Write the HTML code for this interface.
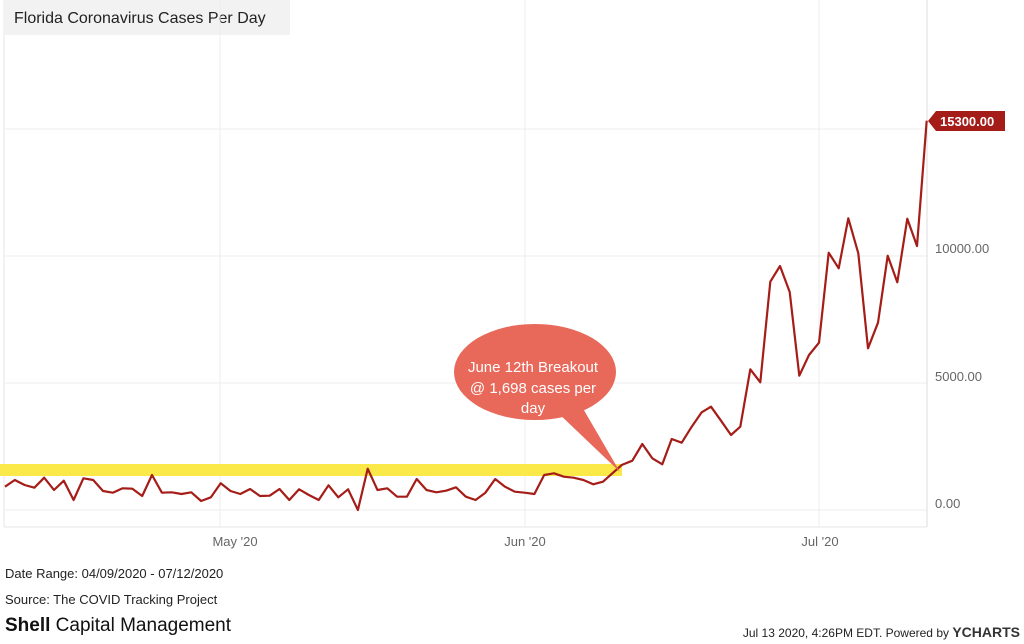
<!DOCTYPE html>
<html><head><meta charset="utf-8"><style>
html,body{margin:0;padding:0;background:#fff;width:1024px;height:644px;overflow:hidden;font-family:"Liberation Sans",sans-serif;}
</style></head><body>
<svg id="s" width="1024" height="644" xmlns="http://www.w3.org/2000/svg" style="position:absolute;left:0;top:0">
<rect x="5" y="0" width="285" height="35" fill="#f2f2f2"/>
<text x="14" y="23" font-size="16" fill="#222">Florida Coronavirus Cases Per Day</text>
<g stroke="#ececec" stroke-width="1">
<line x1="5" y1="129" x2="927" y2="129"/>
<line x1="5" y1="256" x2="927" y2="256"/>
<line x1="5" y1="383" x2="927" y2="383"/>
<line x1="5" y1="510" x2="927" y2="510"/>
<line x1="220" y1="0" x2="220" y2="527"/>
<line x1="525" y1="0" x2="525" y2="527"/>
<line x1="819" y1="0" x2="819" y2="527"/>
</g>
<line x1="927" y1="0" x2="927" y2="527" stroke="#ddd"/>
<line x1="4" y1="0" x2="4" y2="527" stroke="#e6e6e6"/>
<line x1="4" y1="527" x2="927" y2="527" stroke="#e6e6e6"/>
<g font-size="13" fill="#666">
<text x="935" y="253">10000.00</text>
<text x="935" y="381">5000.00</text>
<text x="935" y="508">0.00</text>
<text x="235" y="546" text-anchor="middle">May '20</text>
<text x="525" y="546" text-anchor="middle">Jun '20</text>
<text x="820" y="546" text-anchor="middle">Jul '20</text>
</g>
<rect x="0" y="464" width="622" height="12" fill="#fbe94a"/>
<polyline id="p" fill="none" stroke="#a51d18" stroke-width="2.2" stroke-linejoin="round"/>
<path d="M928,121 L936,111 L1005,111 L1005,131 L936,131 Z" fill="#a51d18"/>
<text x="940" y="126" font-size="13" font-weight="bold" fill="#fff">15300.00</text>
<path d="M578,400 L620,472 L555,410 Z" fill="#e8685a"/>
<ellipse cx="535" cy="372" rx="81" ry="48" fill="#e8685a"/>
<g font-size="15" fill="#fff" text-anchor="middle">
<text x="533" y="372">June 12th Breakout</text>
<text x="533" y="393">@ 1,698 cases per</text>
<text x="533" y="413">day</text>
</g>
<g font-size="13" fill="#222">
<text x="5" y="578">Date Range: 04/09/2020 - 07/12/2020</text>
<text x="5" y="604">Source: The COVID Tracking Project</text>
</g>
<text x="5" y="631" font-size="19" fill="#111"><tspan font-weight="bold">Shell</tspan> Capital Management</text>
<text x="1020" y="637" font-size="12" fill="#222" text-anchor="end">Jul 13 2020, 4:26PM EDT. Powered by <tspan font-weight="bold" font-size="14" fill="#333">YCHARTS</tspan></text>
</svg>
<script>
var a=[140,120,135,143,113,150,122,180,115,120,153,158,145,146,168,105,158,157,162,157,183,172,130,153,162,147,168,167,147,180,148,165,180,136,172,148,210,86,150,145,170,170,117,150,157,152,142,170,180,158,117,140,155,158,162,105,100,110,113,120,133,125];
var pts=[];
for(var i=0;i<a.length;i++){pts.push((5+i*598/61).toFixed(1)+","+(440+a[i]/3).toFixed(1));}
var b=[[65,1095],[97,1082],[127,1032],[157,1075],[187,1093],[215,1017],[245,1028],[275,980],[305,937],[333,920],[363,962],[393,1005],[421,980],[451,808],[481,847],[511,545],[540,498],[569,576],[598,827],[627,765],[657,728],[686,458],[716,505],[745,355],[775,460],[804,745],[834,668],[863,467],[892,547],[922,356],[951,438],[980,62]];
for(var j=0;j<b.length;j++){pts.push((600+b[j][0]/3).toFixed(1)+","+(100+b[j][1]/3).toFixed(1));}
document.getElementById("p").setAttribute("points",pts.join(" "));
</script>
</body></html>
